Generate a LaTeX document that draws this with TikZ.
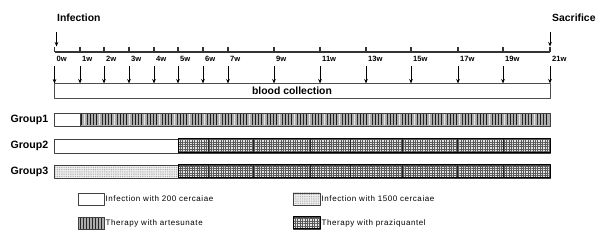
\documentclass[tikz,border=0pt]{standalone}
\usepackage{fontspec}
\setmainfont{Liberation Sans}
\newfontfamily\legfont[LetterSpace=7]{Liberation Sans}
\usetikzlibrary{patterns.meta,arrows.meta}

\begin{document}
\begin{tikzpicture}[x=1pt,y=-1pt,>={Stealth[length=4.5pt,width=3.6pt]}, line join=round,
	lbl/.style={font=\fontsize{10.4}{12}\selectfont\bfseries,inner sep=0pt},
	wk/.style={font=\fontsize{7.6}{9}\selectfont\bfseries,anchor=north west,inner sep=0pt},
	grp/.style={font=\fontsize{10.6}{12}\selectfont\bfseries,anchor=east,inner sep=0pt},
	leg/.style={font=\fontsize{8}{9}\selectfont\legfont,anchor=west,inner sep=0pt},
	bar/.style={draw=black!75,line width=0.7pt},
	plain/.style={bar,fill=white},
	dots/.style={pattern={Dots[distance=1.8pt,radius=0.55pt]},pattern color=gray!70},
	grid lines/.style={pattern={Hatch[distance=2.4pt,line width=0.35pt]},pattern color=black!65},
	stripes/.style={bar,fill=gray!65},
	hatch/.style={bar,fill=gray!20}]
	\useasboundingbox (0,0) rectangle (600,245);
	\def\xs{54.5} \def\xe{550}
	% time axis
	\node[lbl,anchor=west] (inf) at (57,18) {Infection};
	\node[lbl,anchor=west] (sac) at (552,18) {Sacrifice};
	\coordinate (t0) at (\xs,52); \coordinate (t21) at (\xe,52);
	\draw[black!80,line width=1.6pt] (t0)--(t21);
	\foreach \w/\xx in {0/54.5,1/80,2/104,3/129,4/154,5/178,6/203,7/228,9/274,11/320,13/366,15/411,17/458,19/503,21/550}{
		\coordinate (k\w) at (\xx,52);
		\draw[black!80,line width=1.3pt] (k\w)--++(0,-5);
		\node[wk] (l\w) at (\xx+2,56) {\w w};
		\coordinate (a\w) at (\xx,66);
		\coordinate (b\w) at (\xx,83.5);
		\draw[->,line width=0.8pt] (a\w)--(b\w);
	}
	\coordinate (i1) at (56.5,32); \coordinate (i2) at (56.5,46.5);
	\draw[->,line width=0.8pt] (i1)--(i2);
	\coordinate (s1) at (\xe,32); \coordinate (s2) at (\xe,46.5);
	\draw[->,line width=0.8pt] (s1)--(s2);
	% blood collection
	\draw[black!70,line width=0.7pt] (b0) rectangle (\xe,98);
	\node[lbl] (blood) at (292,91) {blood collection};
	% groups
	\foreach \g/\yy in {1/119.5,2/146,3/171.5}
		\node[grp] (g\g) at (48.5,\yy) {Group\g};
	\draw[plain] (\xs,113) rectangle (80,126);
	\draw[stripes] (80,113) rectangle (\xe,126);
	\foreach \i in {0,...,155}{
		\pgfmathtruncatemacro\c{mod(\i*37,5)}
		\ifnum\c<2 \draw[black!90,line width=0.8pt] (81.5+\i*3,113.5)--++(0,12);
		\else\ifnum\c=2 \draw[white!80!gray,line width=0.6pt] (81.5+\i*3,113.5)--++(0,12);
		\else \draw[gray!30!black,line width=0.6pt] (81.5+\i*3,113.5)--++(0,12);\fi\fi
	}
	\draw[bar] (80,113) rectangle (\xe,126);
	\draw[plain] (\xs,139) rectangle (178,153);
	\fill[gray!10] (\xs,165) rectangle (178,178);
	\fill[dots] (\xs,165) rectangle (178,178);
	\draw[bar] (\xs,165) rectangle (178,178);
	\foreach \ya/\yb in {139/153,165/178}{
		\draw[hatch] (178,\ya) rectangle (\xe,\yb);
		\fill[grid lines] (178,\ya) rectangle (\xe,\yb);
		\foreach \xx in {208,253,310,350,402,457,503}
			\draw[black!85,line width=0.8pt] (\xx,\ya)--(\xx,\yb);
		\draw[black,line width=1pt] (178,\ya) rectangle (\xe,\yb);
	}
	% legend
	\draw[plain] (78,193) rectangle (104,205);
	\node[leg] (t1) at (105.5,199) {Infection with 200 cercaiae};
	\fill[gray!10] (293,193) rectangle (320,205);
	\fill[dots] (293,193) rectangle (320,205);
	\draw[bar] (293,193) rectangle (320,205);
	\node[leg] (t2) at (321.5,199) {Infection with 1500 cercaiae};
	\draw[stripes] (78,217) rectangle (104,229);
	\foreach \xx in {80.5,83,86,89,92,95,98,101}
		\draw[black!85,line width=0.8pt] (\xx,217)--(\xx,229);
	\draw[bar] (78,217) rectangle (104,229);
	\node[leg] (t3) at (105.5,223) {Therapy with artesunate};
	\draw[hatch] (293,217) rectangle (320,229);
	\fill[grid lines] (293,217) rectangle (320,229);
	\draw[black,line width=1pt] (293,217) rectangle (320,229);
	\node[leg] (t4) at (321.5,223) {Therapy with praziquantel};
\end{tikzpicture}
\end{document}
